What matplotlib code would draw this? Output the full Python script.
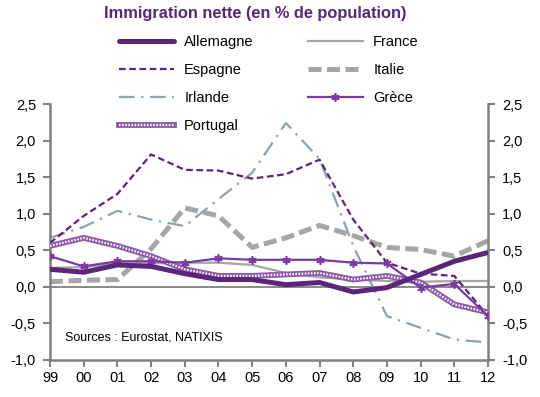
import numpy as np
import matplotlib
matplotlib.use('Agg')
import matplotlib.pyplot as plt
from matplotlib.legend_handler import HandlerTuple

plt.rcParams['font.family'] = ['Liberation Sans', 'DejaVu Sans']

# data (% of population)
years = ['99', '00', '01', '02', '03', '04', '05', '06', '07', '08', '09', '10', '11', '12']
allemagne = [0.24, 0.20, 0.30, 0.28, 0.18, 0.10, 0.10, 0.03, 0.06, -0.07, -0.01, 0.17, 0.35, 0.47]
france = [0.26, 0.27, 0.32, 0.32, 0.33, 0.33, 0.30, 0.19, 0.13, 0.10, 0.08, 0.07, 0.08, 0.08]
espagne = [0.60, 0.97, 1.27, 1.81, 1.60, 1.59, 1.48, 1.54, 1.74, 0.92, 0.33, 0.18, 0.15, -0.40]
italie = [0.07, 0.09, 0.10, 0.52, 1.08, 0.97, 0.54, 0.67, 0.84, 0.70, 0.54, 0.51, 0.42, 0.63]
irlande = [0.67, 0.82, 1.04, 0.92, 0.83, 1.20, 1.56, 2.24, 1.75, 0.56, -0.40, -0.56, -0.72, -0.76]
grece = [0.42, 0.28, 0.35, 0.35, 0.33, 0.39, 0.37, 0.37, 0.37, 0.33, 0.32, -0.01, 0.04, -0.40]
portugal = [0.56, 0.67, 0.56, 0.42, 0.24, 0.15, 0.15, 0.17, 0.19, 0.10, 0.15, 0.06, -0.24, -0.35]

yticks = [-1.0, -0.5, 0.0, 0.5, 1.0, 1.5, 2.0, 2.5]

dark = '#5a2679'
x = np.arange(len(years))

fig = plt.figure(figsize=(5.4, 3.97), dpi=100)
ax = fig.add_axes([0.0926, 0.0932, 0.8111, 0.6448])

ax.axhline(0, color='#808080', lw=1.3, zorder=1)

l_fr, = ax.plot(x, france, color='#a6a6a6', lw=1.6, zorder=2)
l_it, = ax.plot(x, italie, color='#a6a6a6', lw=3.6, dashes=(2.6, 1.1), zorder=2)
l_ir, = ax.plot(x, irlande, color='#8da2ae', lw=1.6, dashes=(7, 3, 1, 3), zorder=2)
l_es, = ax.plot(x, espagne, color=dark, lw=1.6, dashes=(3, 1.6), zorder=3)
l_pt_a, = ax.plot(x, portugal, color='#8c5aa8', lw=4.2, zorder=3)
l_pt_b, = ax.plot(x, portugal, color='white', lw=1.6, dashes=(0.7, 0.7), zorder=3)
l_gr, = ax.plot(x, grece, color='#7a3aa6', lw=1.6, marker=(6, 2, 0), ms=6, mew=1.2, zorder=4)
l_al, = ax.plot(x, allemagne, color=dark, lw=3.6, solid_capstyle='round', zorder=5)

ax.set_xlim(0, len(years) - 1)
ax.set_ylim(-1.0, 2.5)
ax.set_xticks(x)
ax.set_xticklabels(years)
ax.set_yticks(yticks)
ax.set_yticklabels([('%.1f' % v).replace('.', ',') for v in yticks])
ax.tick_params(axis='both', direction='out', length=5, width=1.5, color='#808080',
               labelsize=10.5, labelcolor='black')
ax.tick_params(axis='y', right=True, labelright=True, pad=5)
ax.tick_params(axis='x', pad=3)
for side in ['left', 'right', 'bottom']:
    ax.spines[side].set_color('#808080')
    ax.spines[side].set_linewidth(1.8)
ax.spines['top'].set_visible(False)

ax.text(0.035, 0.075, 'Sources : Eurostat, NATIXIS', transform=ax.transAxes,
        fontsize=9, color='black')

fig.text(0.472, 0.966, 'Immigration nette (en % de population)', ha='center', va='center',
         fontsize=11.8, fontweight='bold', color=dark)

handles = [l_al, l_es, l_ir, (l_pt_a, l_pt_b), l_fr, l_it, l_gr]
labels = ['Allemagne', 'Espagne', 'Irlande', 'Portugal', 'France', 'Italie', 'Grèce']
fig.legend(handles, labels, ncol=2, loc='upper left', bbox_to_anchor=(0.206, 0.93),
           frameon=False, fontsize=10.5, handlelength=3.8, handletextpad=0.7,
           columnspacing=3.7, labelspacing=0.95, borderpad=0,
           handler_map={tuple: HandlerTuple(ndivide=1, pad=0)})

fig.savefig('out.png', dpi=100)
